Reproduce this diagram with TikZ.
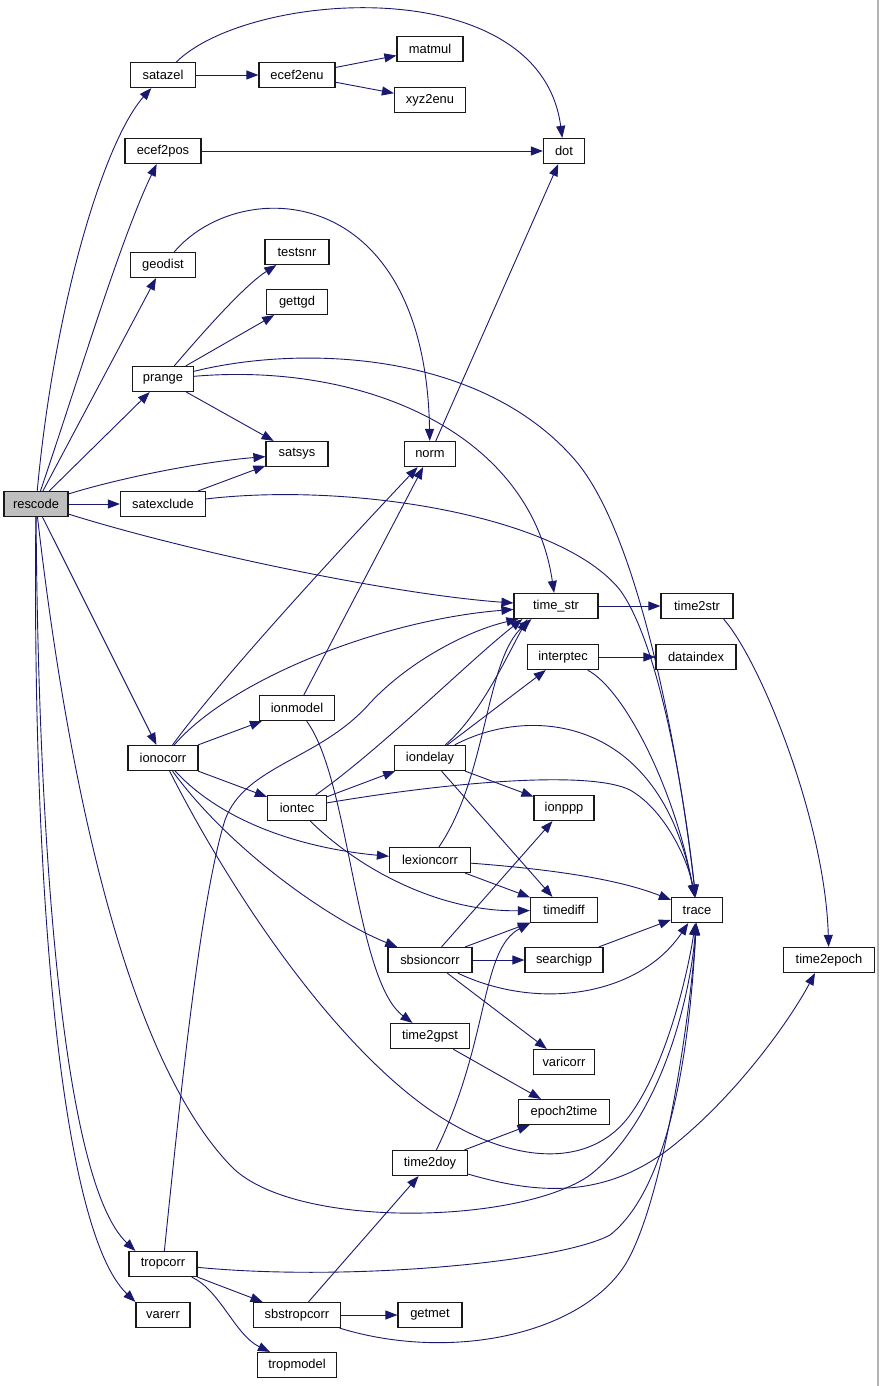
\documentclass[tikz,border=0pt]{standalone}
\usepackage{fontspec}
\setmainfont{Liberation Sans}
\usetikzlibrary{arrows.meta,backgrounds}
\definecolor{edgec}{HTML}{191970}
\definecolor{rootgray}{HTML}{BFBFBF}
\begin{document}
\begin{tikzpicture}[x=1pt,y=-1pt,
  fn/.style={draw=black!90, line width=1.2pt, fill=white, minimum height=25pt, inner sep=0pt, font=\fontsize{12.9}{15}\selectfont},
  call/.style={draw=edgec, line width=0.9pt, -{Triangle[length=12pt,width=9pt]}}]
\useasboundingbox (0,0) rectangle (879,1386);

% nodes
\node[fn,minimum width=64pt,fill=rootgray] (rescode) at (36,504) {rescode};
\node[fn,minimum width=65pt] (satazel) at (163,75) {satazel};
\node[fn,minimum width=76pt] (ecef2enu) at (297,75) {ecef2enu};
\node[fn,minimum width=66pt] (matmul) at (430,49) {matmul};
\node[fn,minimum width=71pt] (xyz2enu) at (430,100) {xyz2enu};
\node[fn,minimum width=41pt] (dot) at (564,151) {dot};
\node[fn,minimum width=76pt] (ecef2pos) at (163,151) {ecef2pos};
\node[fn,minimum width=65pt] (geodist) at (163,265) {geodist};
\node[fn,minimum width=64pt] (testsnr) at (297,252) {testsnr};
\node[fn,minimum width=61pt] (gettgd) at (297,302) {gettgd};
\node[fn,minimum width=61pt] (prange) at (163,379) {prange};
\node[fn,minimum width=62pt] (satsys) at (297,454) {satsys};
\node[fn,minimum width=51pt] (norm) at (430,454) {norm};
\node[fn,minimum width=85pt] (satexclude) at (163,504) {satexclude};
\node[fn,minimum width=84pt] (time_str) at (556,606) {time\_str};
\node[fn,minimum width=72pt] (time2str) at (697,606) {time2str};
\node[fn,minimum width=71pt] (interptec) at (563,657) {interptec};
\node[fn,minimum width=80pt] (dataindex) at (696,657) {dataindex};
\node[fn,minimum width=75pt] (ionmodel) at (297,708) {ionmodel};
\node[fn,minimum width=70pt] (ionocorr) at (163,758) {ionocorr};
\node[fn,minimum width=71pt] (iondelay) at (430,758) {iondelay};
\node[fn,minimum width=59pt] (iontec) at (297,808) {iontec};
\node[fn,minimum width=60pt] (ionppp) at (564,808) {ionppp};
\node[fn,minimum width=81pt] (lexioncorr) at (430,860) {lexioncorr};
\node[fn,minimum width=67pt] (timediff) at (564,910) {timediff};
\node[fn,minimum width=51pt] (trace) at (697,910) {trace};
\node[fn,minimum width=84pt] (sbsioncorr) at (430,960) {sbsioncorr};
\node[fn,minimum width=78pt] (searchigp) at (564,960) {searchigp};
\node[fn,minimum width=91pt] (time2epoch) at (829,960) {time2epoch};
\node[fn,minimum width=79pt] (time2gpst) at (430,1036) {time2gpst};
\node[fn,minimum width=61pt] (varicorr) at (564,1062) {varicorr};
\node[fn,minimum width=91pt] (epoch2time) at (564,1112) {epoch2time};
\node[fn,minimum width=75pt] (time2doy) at (430,1163) {time2doy};
\node[fn,minimum width=68pt] (tropcorr) at (163,1264) {tropcorr};
\node[fn,minimum width=87pt] (sbstropcorr) at (297,1315) {sbstropcorr};
\node[fn,minimum width=64pt] (getmet) at (430,1315) {getmet};
\node[fn,minimum width=54pt] (varerr) at (163,1315) {varerr};
\node[fn,minimum width=79pt] (tropmodel) at (297,1365) {tropmodel};

\begin{scope}[on background layer]
\fill[white] (0,0) rectangle (879,1386);
\draw[gray!60, line width=1.5pt] (878,0) -- (878,1386);
% rescode
\draw[call] (rescode) .. controls (55,300) and (105,140) .. (satazel);
\draw[call] (rescode) .. controls (75,390) and (120,240) .. (ecef2pos);
\draw[call] (rescode) -- (geodist);
\draw[call] (rescode) -- (prange);
\draw[call] (rescode) .. controls (120,478) and (200,462) .. (satsys);
\draw[call] (rescode) -- (satexclude);
\draw[call] (rescode) .. controls (200,555) and (400,595) .. (time_str);
\draw[call] (rescode) -- (ionocorr);
\draw[call] (rescode) .. controls (70,800) and (130,1060) .. (230,1165) .. controls (290,1230) and (520,1225) .. (590,1175) .. controls (660,1120) and (690,1000) .. (trace);
\draw[call] (rescode) .. controls (38,820) and (60,1180) .. ([xshift=7pt]tropcorr.north west);
\draw[call] (rescode) .. controls (32,880) and (60,1230) .. (varerr.north west);
% satazel, ecef2enu, ecef2pos, geodist
\draw[call] (satazel) -- (ecef2enu);
\draw[call] (satazel) .. controls (250,-10) and (540,-30) .. (dot);
\draw[call] (ecef2enu) -- (matmul);
\draw[call] (ecef2enu) -- (xyz2enu);
\draw[call] (ecef2pos) -- (dot);
\draw[call] (geodist) .. controls (240,175) and (425,180) .. (norm);
% prange
\draw[call] (prange) .. controls (205,330) and (245,285) .. (testsnr);
\draw[call] (prange) -- (gettgd);
\draw[call] (prange) -- (satsys);
\draw[call] (prange) .. controls (300,345) and (480,350) .. (575,460) .. controls (640,535) and (680,760) .. (trace);
\draw[call] (prange) .. controls (360,362) and (530,430) .. (time_str);
% satexclude, norm, time_str, time2str, interptec
\draw[call] (satexclude) -- (satsys);
\draw[call] (satexclude) .. controls (350,482) and (560,515) .. (620,590) .. controls (660,645) and (685,800) .. (trace);
\draw[call] (norm) -- (dot);
\draw[call] (time_str) -- (time2str);
\draw[call] ([xshift=-10pt]time2str.south east) .. controls (760,660) and (825,820) .. (time2epoch);
\draw[call] (interptec) -- (dataindex);
\draw[call] (interptec) .. controls (625,690) and (675,790) .. (trace);
% ionocorr
\draw[call] (ionocorr) .. controls (220,680) and (330,560) .. (norm);
\draw[call] (ionocorr) .. controls (230,680) and (380,620) .. (time_str);
\draw[call] (ionocorr) -- (ionmodel);
\draw[call] (ionocorr) -- (iontec);
\draw[call] (ionocorr) .. controls (230,830) and (320,850) .. (lexioncorr);
\draw[call] (ionocorr) .. controls (230,850) and (330,920) .. (sbsioncorr);
\draw[call] (ionocorr) .. controls (230,890) and (330,1040) .. (430,1110) .. controls (510,1165) and (590,1170) .. (630,1115) .. controls (670,1060) and (690,960) .. (trace);
% ionmodel
\draw[call] (ionmodel) -- (norm);
\draw[call] (ionmodel) .. controls (350,780) and (355,980) .. (time2gpst);
% iontec
\draw[call] (iontec) -- (iondelay);
\draw[call] (iontec) .. controls (380,750) and (470,660) .. ([xshift=9pt]time_str.south west);
\draw[call] (iontec) .. controls (450,782) and (590,770) .. (630,790) .. controls (665,810) and (688,860) .. (trace);
\draw[call] (iontec) .. controls (360,870) and (440,912) .. (timediff);
% iondelay
\draw[call] (iondelay) -- (interptec);
\draw[call] (iondelay) .. controls (480,715) and (505,660) .. ([xshift=14pt]time_str.south west);
\draw[call] (iondelay) .. controls (530,705) and (660,715) .. (trace);
\draw[call] (iondelay) -- (ionppp);
\draw[call] (iondelay) -- (timediff);
% lexioncorr
\draw[call] (lexioncorr) .. controls (488,775) and (485,660) .. ([xshift=18pt]time_str.south west);
\draw[call] (lexioncorr) -- (timediff);
\draw[call] (lexioncorr) .. controls (560,870) and (620,880) .. (trace);
% sbsioncorr
\draw[call] (sbsioncorr) -- (ionppp);
\draw[call] (sbsioncorr) -- (timediff);
\draw[call] (sbsioncorr) -- (searchigp);
\draw[call] (sbsioncorr) .. controls (540,1012) and (640,995) .. (trace);
\draw[call] (sbsioncorr) -- (varicorr);
\draw[call] (searchigp) -- (trace);
% time2gpst, time2doy
\draw[call] (time2gpst) -- (epoch2time);
\draw[call] (time2doy) -- (epoch2time);
\draw[call] (time2doy) .. controls (490,1040) and (480,950) .. (timediff.south west);
\draw[call] (time2doy) .. controls (540,1195) and (610,1200) .. (680,1140) .. controls (740,1090) and (790,1020) .. ([xshift=-14pt]time2epoch.south);
% tropcorr
\draw[call] (tropcorr) .. controls (180,1100) and (200,900) .. (225,820) .. controls (245,765) and (320,760) .. (370,703) .. controls (410,660) and (470,630) .. ([xshift=5pt]time_str.south west);
\draw[call] (tropcorr) .. controls (350,1282) and (560,1262) .. (610,1235) .. controls (680,1180) and (692,1000) .. (trace);
\draw[call] (tropcorr) -- (sbstropcorr);
\draw[call] (tropcorr) .. controls (220,1290) and (235,1335) .. (tropmodel);
% sbstropcorr
\draw[call] (sbstropcorr) -- (time2doy);
\draw[call] (sbstropcorr) -- (getmet);
\draw[call] (sbstropcorr) .. controls (450,1362) and (580,1335) .. (625,1265) .. controls (665,1200) and (692,1000) .. (trace);
\end{scope}
\end{tikzpicture}
\end{document}
